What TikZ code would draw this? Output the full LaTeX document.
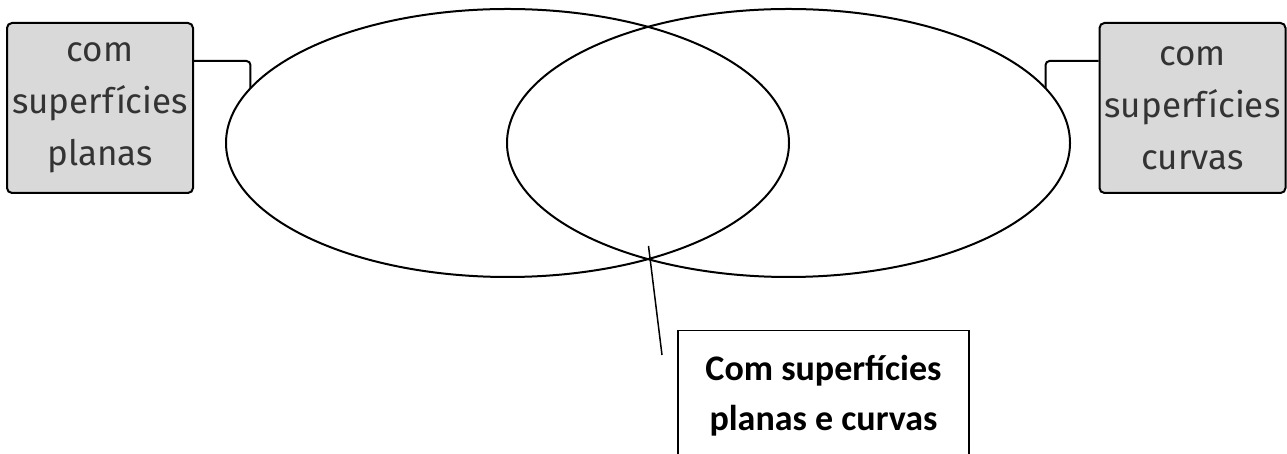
\documentclass[tikz,border=0pt]{standalone}
\usepackage{fontspec}
\newfontfamily\tagfont{Fira Sans}
\newfontfamily\notefont{Carlito}
\usetikzlibrary{shapes.geometric, positioning}

\begin{document}
\begin{tikzpicture} [
	x=1pt, y=1pt,
	line width=2pt, % outline of the sets and boxes
	setshape/.style={draw, ellipse, minimum width=563pt, minimum height=268pt, inner sep=0pt, outer sep=0pt}, % the two sets
	graybox/.style={draw, fill=gray!30, rounded corners=5pt, minimum width=186pt, minimum height=170pt, align=center, text=black!80, font=\tagfont\fontsize{35}{52}\selectfont}, % names of the sets
	notebox/.style={draw, line width=1.5pt, minimum width=291pt, minimum height=130pt, align=center, font=\notefont\bfseries\fontsize{36}{50}\selectfont}, % name of the overlap
	]
	\useasboundingbox (0,0) rectangle (1287,454);
	\node[setshape] (sL) at (507.5,311) {};
	\node[setshape] (sR) at (788.5,311) {};
	\node[graybox] (planas) at (100,346) {com\\superfícies\\planas};
	\node[graybox] (curvas) at (1192.5,346) {com\\superfícies\\curvas};
	\node[notebox, anchor=north] (both) at (823.5,124) {Com superfícies\\planas e curvas};
	\coordinate (tip) at (648.5,208);
	\coordinate (end) at (662,99);
	\draw[rounded corners=4pt]
		([yshift=-39pt]planas.north east) -| (sL.168.7)
		([yshift=-39pt]curvas.north west) -| (sR.12.6)
	;
	\draw[line width=1.5pt] (tip) -- (end);
\end{tikzpicture}
\end{document}
